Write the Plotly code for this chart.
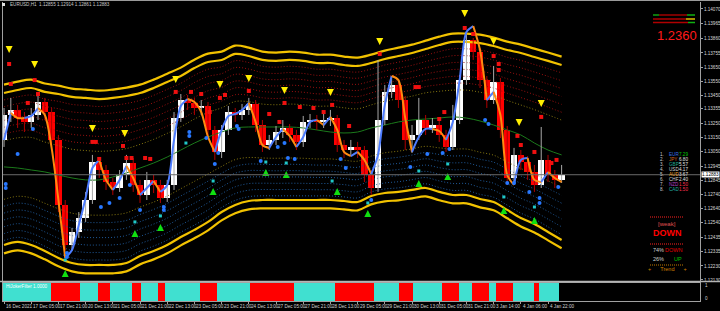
import plotly.graph_objects as go

# ---------------- data ----------------
CANDLE_STEP = 4   # each drawn candle summarises 4 H1 bars
BAND_STEP = 8     # band values read every 8 bars

first_open = 1.13132
close = [1.13311,1.13347,1.13289,1.13261,1.13311,1.13404,1.13332,1.13132,1.12667,1.12380,
         1.12473,1.12573,1.12702,1.12974,1.12917,1.12831,1.12788,1.12881,1.12967,1.12810,
         1.12738,1.12846,1.12810,1.12717,1.12810,1.13289,1.13418,1.13397,1.13361,1.13375,
         1.13204,1.13046,1.13204,1.13332,1.13311,1.13347,1.13390,1.13239,1.13096,1.13132,
         1.13189,1.13218,1.13168,1.13118,1.13261,1.13275,1.13261,1.13275,1.13289,1.13096,
         1.13060,1.13082,1.13060,1.12881,1.12788,1.13275,1.13476,1.13526,1.13418,1.13132,
         1.13168,1.13275,1.13218,1.13239,1.13168,1.13082,1.13275,1.13561,1.13848,1.13762,
         1.13561,1.13418,1.13547,1.13204,1.12860,1.13025,1.12974,1.12903,1.12810,1.12989,
         1.12881,1.12846,1.12883]
high = [1.13361,1.13433,1.13383,1.13332,1.13361,1.13476,1.13433,1.13361,1.13168,1.12702,
        1.12502,1.12616,1.12760,1.13025,1.13010,1.12953,1.12860,1.12917,1.13025,1.13003,
        1.12846,1.12903,1.12881,1.12846,1.12846,1.13332,1.13461,1.13454,1.13433,1.13418,
        1.13404,1.13232,1.13239,1.13375,1.13361,1.13390,1.13433,1.13418,1.13275,1.13168,
        1.13232,1.13275,1.13246,1.13204,1.13304,1.13318,1.13311,1.13332,1.13347,1.13311,
        1.13132,1.13132,1.13118,1.13089,1.12917,1.13705,1.13526,1.13590,1.13561,1.13447,
        1.13239,1.13433,1.13311,1.13289,1.13275,1.13204,1.13383,1.13597,1.13884,1.13862,
        1.13791,1.13590,1.13662,1.13576,1.13232,1.13075,1.13060,1.13017,1.12953,1.13225,
        1.13025,1.12917,1.12953]
low = [1.13082,1.13261,1.13218,1.13189,1.13218,1.13275,1.13275,1.13075,1.12616,1.12344,
       1.12344,1.12430,1.12545,1.12674,1.12860,1.12774,1.12738,1.12760,1.12846,1.12760,
       1.12681,1.12702,1.12752,1.12681,1.12688,1.12774,1.13261,1.13347,1.13311,1.13311,
       1.13146,1.12989,1.13003,1.13168,1.13261,1.13275,1.13311,1.13189,1.13046,1.13060,
       1.13096,1.13146,1.13118,1.13060,1.13082,1.13218,1.13204,1.13218,1.13232,1.13046,
       1.13003,1.13025,1.13003,1.12831,1.12738,1.12760,1.13239,1.13433,1.13361,1.13060,
       1.13039,1.13132,1.13168,1.13182,1.13118,1.13046,1.13060,1.13246,1.13526,1.13705,
       1.13504,1.13361,1.13390,1.13146,1.12810,1.12824,1.12917,1.12846,1.12760,1.12788,
       1.12831,1.12788,1.12824]
trend = [1.13132,1.13325,1.13289,1.13289,1.13304,1.13361,1.13311,1.13075,1.12702,1.12287,
         1.12344,1.12523,1.12717,1.12931,1.12989,1.12846,1.12774,1.12846,1.12946,1.12860,
         1.12738,1.12788,1.12838,1.12760,1.12810,1.13132,1.13375,1.13425,1.13404,1.13332,
         1.13153,1.13046,1.13204,1.13304,1.13318,1.13347,1.13397,1.13261,1.13096,1.13075,
         1.13153,1.13211,1.13161,1.13082,1.13153,1.13261,1.13275,1.13239,1.13297,1.13204,
         1.13046,1.13017,1.13046,1.12989,1.12888,1.13025,1.13383,1.13590,1.13561,1.13289,
         1.13046,1.13153,1.13211,1.13211,1.13196,1.13132,1.13261,1.13561,1.13905,1.13948,
         1.13776,1.13418,1.13476,1.13311,1.12881,1.12810,1.12989,1.13003,1.12846,1.12831,
         1.12903,1.12860,1.12831]

band_upper_inner = [1.13468,1.13490,1.13504,1.13476,1.13461,1.13440,1.13433,1.13425,1.13433,1.13447,
                    1.13468,1.13504,1.13547,1.13590,1.13647,1.13690,1.13705,1.13748,1.13733,1.13705,
                    1.13698,1.13705,1.13698,1.13683,1.13683,1.13669,1.13662,1.13683,1.13712,1.13733,
                    1.13755,1.13783,1.13812,1.13834,1.13834,1.13826,1.13805,1.13776,1.13755,1.13726,
                    1.13698,1.13669]
band_lower_inner = [1.12380,1.12402,1.12380,1.12337,1.12287,1.12251,1.12237,1.12237,1.12237,1.12251,
                    1.12301,1.12337,1.12380,1.12437,1.12488,1.12545,1.12616,1.12667,1.12695,1.12702,
                    1.12702,1.12702,1.12702,1.12702,1.12702,1.12695,1.12688,1.12731,1.12752,1.12760,
                    1.12774,1.12788,1.12760,1.12738,1.12738,1.12709,1.12688,1.12631,1.12573,1.12530,
                    1.12473,1.12416]
green_ma = [1.12939,1.12931,1.12917,1.12903,1.12881,1.12860,1.12846,1.12846,1.12867,1.12896,
            1.12931,1.12967,1.13010,1.13060,1.13110,1.13153,1.13189,1.13218,1.13225,1.13225,
            1.13225,1.13225,1.13218,1.13204,1.13189,1.13182,1.13189,1.13218,1.13239,1.13261,
            1.13275,1.13282,1.13289,1.13297,1.13289,1.13268,1.13239,1.13204,1.13168,1.13110,
            1.13060,1.13025]
band_gap = 0.0006
red_level_fracs = [0.045, 0.09, 0.135, 0.18, 0.225, 0.27]
olive_level_fracs = [0.315, 0.70]
blue_level_fracs = [0.745, 0.79, 0.835, 0.88, 0.925, 0.97]

yellow_dn_bar = [3,18,52,71,101,127,144,165,192,221,271,288,303,316]
yellow_dn_price = [1.13755,1.13647,1.13189,1.13153,1.13540,1.13504,1.13547,1.13461,1.13447,1.13812,
                   1.14013,1.13812,1.13232,1.13368]
green_up_bar = [36,77,92,123,154,166,196,214,244,261,294,312]
green_up_price = [1.12201,1.12488,1.12530,1.12788,1.12924,1.12910,1.12788,1.12631,1.12846,1.12896,
                  1.12652,1.12581]
red_dot_bar = [3,4,14,20,18,52,54,56,70,72,75,83,86,101,110,116,121,127,130,144,156,162,165,174,182,
               188,193,203,221,242,244,256,259,271,276,288,291,291,302,304,312,316,322,325]
red_dot_price = [1.13676,1.13533,1.13397,1.13461,1.13561,1.13118,1.13118,1.12996,1.13089,1.13003,
                 1.13003,1.13003,1.12996,1.13476,1.13476,1.13461,1.13332,1.13433,1.13454,1.13483,
                 1.13318,1.13261,1.13397,1.13368,1.13361,1.13332,1.13383,1.13232,1.13748,1.13511,
                 1.13511,1.13282,1.13332,1.13934,1.13891,1.13733,1.13676,1.13633,1.13161,1.13096,
                 1.13046,1.13297,1.12967,1.12989]
blue_dot_bar = [1,1,8,17,37,37,57,62,68,74,80,94,94,109,109,119,124,126,137,138,151,161,165,167,171,
                198,201,216,239,249,258,262,283,285,296,300,309,315,315,326]
blue_dot_price = [1.12817,1.12788,1.13032,1.13211,1.12323,1.12294,1.12652,1.12681,1.12717,1.12810,
                  1.12631,1.12652,1.12631,1.13189,1.13161,1.13146,1.12960,1.13039,1.13232,1.13211,
                  1.12982,1.13082,1.13110,1.13003,1.12996,1.12996,1.12931,1.12702,1.12939,1.13032,
                  1.13039,1.13067,1.13275,1.13246,1.12824,1.12824,1.12760,1.12717,1.12681,1.12795]
cyan_bar = [36,77,92,107,123,154,166,193,214,244,261,294,312]
cyan_price = [1.12273,1.12545,1.12588,1.13110,1.12838,1.12974,1.12967,1.12838,1.12681,1.12910,
              1.12960,1.12724,1.12652]

filter_bounds = [0,28,45,56,63,76,81,91,95,116,126,145,171,195,218,233,241,258,268,276,286,290,300,312,315,327]
filter_states = ["up","down","up","down","up","down","up","down","up","down","up","down","up",
                 "down","up","down","up","down","up","down","up","down","up","down","up"]

last_price = 1.12883
y_tick_labels = ["1.14070","1.13965","1.13860","1.13755","1.13650","1.13550","1.13450","1.13355",
                 "1.13250","1.13150","1.13050","1.12945","1.12845","1.12740","1.12640","1.12540",
                 "1.12435","1.12335","1.12230","1.12130"]
x_tick_bars = [0,16,32,48,64,80,96,112,128,144,160,176,192,208,224,240,256,272,288,304,320]
x_tick_labels = ["16 Dec 2021","17 Dec 05:00","17 Dec 21:00","20 Dec 13:00","21 Dec 05:00",
                 "21 Dec 21:00","22 Dec 13:00","23 Dec 05:00","23 Dec 21:00","24 Dec 13:00",
                 "27 Dec 05:00","27 Dec 21:00","28 Dec 13:00","29 Dec 05:00","29 Dec 21:00",
                 "30 Dec 13:00","31 Dec 05:00","31 Dec 21:00","3 Jan 14:00","4 Jan 06:00","4 Jan 22:00"]

currency_rank = ["1.","2.","3.","4.","5.","6.","7.","8."]
currency_names = ["EUR","JPY","GBP","USD","AUD","CHF","NZD","CAD"]
currency_values = ["7.29","6.80","5.57","4.17","3.67","2.40","1.50","1.50"]
currency_colors = ["#3c6ee0","#d2601e","#20a890","#d0d0d0","#f0a020","#d0d0d0","#b040c0","#20b0a0"]
value_colors = ["#00c800","#e0e0e0","#e0e0e0","#e0e0e0","#e0e0e0","#e0e0e0","#ff3050","#ff3050"]

header = "EURUSD,H1  1.12855 1.12914 1.12861 1.12883"

# ---------------- geometry helpers ----------------
W, H = 720, 311
ML, MR, MT, MB = 3, 20, 2, 10
PW, PH = W - ML - MR, H - MT - MB
def xp(px):
    return (px - ML) / PW
def yp(py):
    return (H - MB - py) / PH

FONT = "Liberation Sans Narrow, Liberation Sans, sans-serif"
TINY = 4.6
fig = go.Figure()

# ---------------- bands ----------------
bx = [BAND_STEP * i for i in range(len(band_upper_inner))]
def level(f):
    return [u - f * (u - l) for u, l in zip(band_upper_inner, band_lower_inner)]

for f in red_level_fracs:
    fig.add_trace(go.Scatter(x=bx, y=level(f), mode="lines",
                             line=dict(color="#9a1010", width=1, dash="1px,2px", shape="spline")))
for f in blue_level_fracs:
    fig.add_trace(go.Scatter(x=bx, y=level(f), mode="lines",
                             line=dict(color="#1f5a9a", width=1, dash="1px,2px", shape="spline")))
for f in olive_level_fracs:
    fig.add_trace(go.Scatter(x=bx, y=level(f), mode="lines",
                             line=dict(color="#8a7a10", width=1, dash="1px,2px", shape="spline")))
fig.add_trace(go.Scatter(x=bx, y=green_ma, mode="lines",
                         line=dict(color="#1b7a1b", width=1, shape="spline")))
for arr in (band_upper_inner, [u + band_gap for u in band_upper_inner],
            band_lower_inner, [l - band_gap for l in band_lower_inner]):
    fig.add_trace(go.Scatter(x=bx, y=arr, mode="lines",
                             line=dict(color="#f2c200", width=2.2, shape="spline")))

# ---------------- candles ----------------
opens = [first_open] + close[:-1]
cx = [CANDLE_STEP * i for i in range(len(close))]
for up, wcol, bcol in ((True, "#a8a8a8", "#ffffff"), (False, "#b00000", "#ff0000")):
    wx, wy, bxs, bys, bbase = [], [], [], [], []
    for x, o, h, l, c in zip(cx, opens, high, low, close):
        if (c >= o) != up:
            continue
        wx += [x, x, None]
        wy += [l, h, None]
        bxs.append(x)
        bbase.append(min(o, c))
        bys.append(max(abs(c - o), 0.00003))
    fig.add_trace(go.Scatter(x=wx, y=wy, mode="lines", line=dict(color=wcol, width=1)))
    fig.add_trace(go.Bar(x=bxs, y=bys, base=bbase, width=3.7,
                         marker=dict(color=bcol, line=dict(width=0))))

# ---------------- trend line ----------------
tx = [CANDLE_STEP * i for i in range(len(trend))]
runs = []
cur_dir = None
for i in range(len(trend) - 1):
    d = trend[i + 1] > trend[i] if trend[i + 1] != trend[i] else cur_dir
    if d != cur_dir or not runs:
        runs.append([d, i, i + 1])
        cur_dir = d
    else:
        runs[-1][2] = i + 1
for d, a, b in runs:
    fig.add_trace(go.Scatter(x=tx[a:b + 1], y=trend[a:b + 1], mode="lines",
                             line=dict(color="#4d7cff" if d else "#ff8a10", width=2,
                                       shape="spline", smoothing=0.8)))

# ---------------- markers ----------------
fig.add_trace(go.Scatter(x=cyan_bar, y=cyan_price, mode="markers",
                         marker=dict(symbol="square", size=3, color="#20c8c8")))
fig.add_trace(go.Scatter(x=blue_dot_bar, y=blue_dot_price, mode="markers",
                         marker=dict(symbol="circle", size=4, color="#2878ff")))
fig.add_trace(go.Scatter(x=red_dot_bar, y=red_dot_price, mode="markers",
                         marker=dict(symbol="square", size=4, color="#f01010")))
fig.add_trace(go.Scatter(x=yellow_dn_bar, y=yellow_dn_price, mode="markers",
                         marker=dict(symbol="arrow-down", size=7, color="#ffee00")))
fig.add_trace(go.Scatter(x=green_up_bar, y=green_up_price, mode="markers",
                         marker=dict(symbol="arrow-up", size=7, color="#10e010")))

# ---------------- filter sub-window ----------------
for i, st in enumerate(filter_states):
    a, b = filter_bounds[i], filter_bounds[i + 1]
    fig.add_trace(go.Bar(x=[(a + b) / 2 - 0.5], y=[1], base=[0], width=b - a, yaxis="y2",
                         marker=dict(color="#40e0d0" if st == "up" else "#ff0000", line=dict(width=0))))

# ---------------- layout ----------------
ann = []
for b, t in zip(x_tick_bars, x_tick_labels):
    ann.append(dict(x=b, y=0, xref="x", yref="paper", text=t, showarrow=False,
                    xanchor="left", yanchor="top", xshift=0, yshift=-1,
                    font=dict(size=TINY, color="#d0d0d0", family=FONT)))
ann.append(dict(x=xp(8), y=yp(5), xref="paper", yref="paper", text=header, showarrow=False,
                xanchor="left", yanchor="middle", font=dict(size=TINY, color="#c8c8c8", family=FONT)))
ann.append(dict(x=xp(4), y=yp(286), xref="paper", yref="paper", text="HiJokerFilter 1.0000",
                showarrow=False, xanchor="left", yanchor="middle",
                font=dict(size=TINY, color="#ffffff", family=FONT)))
ann.append(dict(x=xp(703), y=yp(285), xref="paper", yref="paper", text="1", showarrow=False,
                xanchor="left", yanchor="middle", font=dict(size=TINY, color="#d0d0d0", family=FONT)))
ann.append(dict(x=xp(703), y=yp(298), xref="paper", yref="paper", text="0", showarrow=False,
                xanchor="left", yanchor="middle", font=dict(size=TINY, color="#d0d0d0", family=FONT)))
ann.append(dict(x=1, y=last_price, xref="paper", yref="y", text="1.12883", showarrow=False,
                xanchor="left", yanchor="middle", xshift=1, bgcolor="#ffffff", borderpad=0,
                font=dict(size=TINY, color="#000000", family=FONT)))
ann.append(dict(x=xp(677), y=yp(35), xref="paper", yref="paper", text="1.2360", showarrow=False,
                xanchor="center", yanchor="middle",
                font=dict(size=13, color="#ff1a1a", family="Liberation Sans")))
for k in range(len(currency_names)):
    py = 154 + 5.1 * k
    ann.append(dict(x=xp(666), y=yp(py), xref="paper", yref="paper", text=currency_rank[k],
                    showarrow=False, xanchor="right", yanchor="middle",
                    font=dict(size=TINY, color="#c8c8c8", family=FONT)))
    ann.append(dict(x=xp(667), y=yp(py), xref="paper", yref="paper", text=currency_names[k],
                    showarrow=False, xanchor="left", yanchor="middle",
                    font=dict(size=TINY, color=currency_colors[k], family=FONT)))
    ann.append(dict(x=xp(690), y=yp(py), xref="paper", yref="paper", text=currency_values[k],
                    showarrow=False, xanchor="right", yanchor="middle",
                    font=dict(size=TINY, color=value_colors[k], family=FONT)))
ann.append(dict(x=xp(667), y=yp(224), xref="paper", yref="paper", text="[weak]", showarrow=False,
                xanchor="center", yanchor="middle", font=dict(size=6, color="#e05050", family="Liberation Sans")))
ann.append(dict(x=xp(667), y=yp(233), xref="paper", yref="paper", text="<b>DOWN</b>", showarrow=False,
                xanchor="center", yanchor="middle", font=dict(size=9, color="#ff0000", family="Liberation Sans")))
ann.append(dict(x=xp(651), y=yp(250), xref="paper", yref="paper", text="74%", showarrow=False,
                xanchor="left", yanchor="middle", font=dict(size=5.5, color="#d0d0d0", family="Liberation Sans")))
ann.append(dict(x=xp(684), y=yp(250), xref="paper", yref="paper", text="DOWN", showarrow=False,
                xanchor="right", yanchor="middle", font=dict(size=5.5, color="#e00000", family="Liberation Sans")))
ann.append(dict(x=xp(651), y=yp(259), xref="paper", yref="paper", text="26%", showarrow=False,
                xanchor="left", yanchor="middle", font=dict(size=5.5, color="#d0d0d0", family="Liberation Sans")))
ann.append(dict(x=xp(684), y=yp(259), xref="paper", yref="paper", text="UP", showarrow=False,
                xanchor="right", yanchor="middle", font=dict(size=5.5, color="#00c000", family="Liberation Sans")))
ann.append(dict(x=xp(667), y=yp(269), xref="paper", yref="paper", text="+      Trend      +",
                showarrow=False, xanchor="center", yanchor="middle",
                font=dict(size=5.5, color="#d08000", family="Liberation Sans")))

shapes = [
    dict(type="line", xref="paper", yref="y", x0=0, x1=1, y0=last_price, y1=last_price,
         line=dict(color="#6a6a6a", width=1)),
    dict(type="line", xref="paper", yref="paper", x0=xp(0), x1=xp(720), y0=yp(0.5), y1=yp(0.5),
         line=dict(color="#9a9a9a", width=1)),
    dict(type="line", xref="paper", yref="paper", x0=xp(0), x1=xp(720), y0=yp(281.5), y1=yp(281.5),
         line=dict(color="#b4b4b4", width=1.5)),
    dict(type="rect", xref="paper", yref="paper", x0=xp(2), x1=xp(5), y0=yp(6), y1=yp(3),
         line=dict(width=0), fillcolor="#e0e0e0"),
]
for py, col in ((217, "#ff2020"), (244, "#ff2020")):
    shapes.append(dict(type="line", xref="paper", yref="paper", x0=xp(650), x1=xp(684),
                       y0=yp(py), y1=yp(py), line=dict(color=col, width=1, dash="1px,1px")))
shapes.append(dict(type="line", xref="paper", yref="paper", x0=xp(650), x1=xp(684),
                   y0=yp(265), y1=yp(265), line=dict(color="#c07800", width=1, dash="1px,1px")))
# mini multi-timeframe strip (top right)
for py, segs in ((15, [(653, 659, "#10a010"), (659, 687, "#a00000"), (687, 695, "#10b010")]),
                 (19, [(653, 686, "#b00000"), (686, 695, "#e0c000")]),
                 (22.5, [(653, 688, "#b00000"), (688, 695, "#10b010")])):
    for a, b, col in segs:
        shapes.append(dict(type="line", xref="paper", yref="paper", x0=xp(a), x1=xp(b),
                           y0=yp(py), y1=yp(py), line=dict(color=col, width=1.5)))

fig.update_layout(
    width=W, height=H, margin=dict(l=ML, r=MR, t=MT, b=MB, autoexpand=False),
    paper_bgcolor="#000000", plot_bgcolor="#000000", showlegend=False,
    barmode="overlay", bargap=0, template="none",
    xaxis=dict(domain=[0, 1], range=[-0.6, 409.4], anchor="y2", showgrid=False, zeroline=False,
               showticklabels=False, ticks="outside", tickvals=x_tick_bars, ticklen=2,
               tickcolor="#a0a0a0", showline=True, linecolor="#a0a0a0", mirror=True, automargin=False),
    yaxis=dict(domain=[yp(281), 1], range=[1.12122, 1.14120], side="right",
               tickvals=[float(t) for t in y_tick_labels], ticktext=y_tick_labels,
               tickfont=dict(size=TINY, color="#d8d8d8", family=FONT), ticks="outside", ticklen=2,
               ticklabelstandoff=0,
               tickcolor="#a0a0a0", showline=True, linecolor="#a0a0a0", mirror=True,
               showgrid=False, zeroline=False, automargin=False),
    yaxis2=dict(domain=[0, yp(283)], range=[0, 1], side="right", showticklabels=False,
                showline=True, linecolor="#a0a0a0", mirror=True, showgrid=False,
                zeroline=False, automargin=False),
    annotations=ann, shapes=shapes,
)

fig.write_html("out.html", config={"displayModeBar": False})
